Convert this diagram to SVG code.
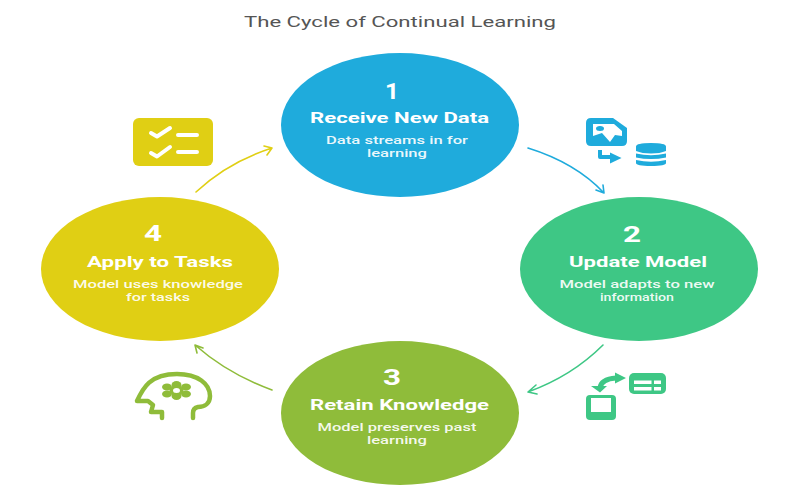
<svg xmlns="http://www.w3.org/2000/svg" width="800" height="500" viewBox="0 0 800 500">
<style>
text{font-family:Roboto,"Liberation Sans",sans-serif;text-anchor:middle}
.n{font-size:22px;font-weight:700;fill:#fff}
.h{font-size:14px;font-weight:700;fill:#fff}
.d{font-size:11px;font-weight:500;fill:#fff;fill-opacity:.92}
.c{fill:none;stroke-width:1.6;stroke-linecap:round;stroke-linejoin:round}
.w{fill:none;stroke:#fff;stroke-width:4;stroke-linecap:round;stroke-linejoin:round}
</style>
<rect width="800" height="500" fill="#fff"/>
<text id="title" x="400" y="27" font-size="14.500" fill="#555" textLength="312" lengthAdjust="spacingAndGlyphs">The Cycle of Continual Learning</text>
<g id="connectors">
<path class="c" stroke="#1fabdc" d="M528 148Q576 163 604 193M596 190L604 193L603 185"/>
<path class="c" stroke="#3ec785" d="M603 345Q572 376 528 392M536 385L528 392L537 394"/>
<path class="c" stroke="#8fbc3a" d="M272 390Q228 374 195 345M203 348L195 345L197 353"/>
<path class="c" stroke="#e0cf14" d="M196 192Q228 162 272 148M264 146L272 148L267 155"/>
</g>
<g id="node1"><ellipse cx="400" cy="125" rx="119" ry="72" fill="#1fabdc"/>
<text class="n" x="392" y="98.500" textLength="14" lengthAdjust="spacingAndGlyphs">1</text>
<text class="h" x="399.500" y="123" textLength="179" lengthAdjust="spacingAndGlyphs">Receive New Data</text>
<text class="d" x="397" y="144" textLength="142" lengthAdjust="spacingAndGlyphs">Data streams in for</text>
<text class="d" x="397" y="157" textLength="60" lengthAdjust="spacingAndGlyphs">learning</text></g>
<g id="node2"><ellipse cx="639" cy="269" rx="119" ry="72" fill="#3ec785"/>
<text class="n" x="632" y="241.500" textLength="18" lengthAdjust="spacingAndGlyphs">2</text>
<text class="h" x="638" y="266.500" textLength="138" lengthAdjust="spacingAndGlyphs">Update Model</text>
<text class="d" x="637" y="288" textLength="155" lengthAdjust="spacingAndGlyphs">Model adapts to new</text>
<text class="d" x="637" y="301" textLength="74" lengthAdjust="spacingAndGlyphs">information</text></g>
<g id="node3"><ellipse cx="400" cy="413" rx="119" ry="72" fill="#8fbc3a"/>
<text class="n" x="392" y="385" textLength="18" lengthAdjust="spacingAndGlyphs">3</text>
<text class="h" x="399.500" y="410" textLength="179" lengthAdjust="spacingAndGlyphs">Retain Knowledge</text>
<text class="d" x="397" y="431" textLength="159" lengthAdjust="spacingAndGlyphs">Model preserves past</text>
<text class="d" x="397" y="444" textLength="60" lengthAdjust="spacingAndGlyphs">learning</text></g>
<g id="node4"><ellipse cx="160" cy="269" rx="119" ry="72" fill="#e0cf14"/>
<text class="n" x="153" y="241" textLength="18" lengthAdjust="spacingAndGlyphs">4</text>
<text class="h" x="160" y="266.500" textLength="146" lengthAdjust="spacingAndGlyphs">Apply to Tasks</text>
<text class="d" x="158" y="288" textLength="170" lengthAdjust="spacingAndGlyphs">Model uses knowledge</text>
<text class="d" x="158" y="301" textLength="64" lengthAdjust="spacingAndGlyphs">for tasks</text></g>
<g id="icon1">
<path fill="#1fabdc" d="M591 118H613L627 128V141Q627 146 622 146H591Q586 146 586 141V123Q586 118 591 118Z"/>
<path fill="#fff" d="M593 124H614L622 131V136L615 135L610 142L602 133L593 136Z"/>
<ellipse cx="600" cy="128.500" rx="4" ry="2.500" fill="#1fabdc"/>
<path fill="none" stroke="#1fabdc" stroke-width="4" stroke-linejoin="round" d="M600 150V157H611"/>
<path fill="#1fabdc" d="M610 152.500L621.500 158L610 163.500Z"/>
<path fill="#1fabdc" d="M636 146.500Q636 143 651 143Q666 143 666 146.500V151Q660 153.500 651 153.500Q642 153.500 636 151ZM636 153.500Q651 157 666 153.500V157.500Q651 160.500 636 157.500ZM636 160Q651 163.500 666 160V163Q666 166 651 166Q636 166 636 163Z"/>
</g>
<g id="icon2">
<rect x="629" y="373" width="37" height="21" rx="5" fill="#3ec785"/>
<path fill="#fff" d="M634 380.500H651.500V384H634ZM654 380.500H661V384H654ZM634 387H651.500V390.500H634ZM654 387H661V390.500H654Z"/>
<rect x="586" y="395" width="30" height="25" rx="4" fill="#3ec785"/>
<rect x="591" y="398" width="20" height="14" fill="#fff"/>
<path fill="none" stroke="#3ec785" stroke-width="5" d="M600 388Q601 379 616 378"/>
<path fill="#3ec785" d="M615 372.500L626 378L615 383.500ZM591 386H607L600 392.500Z"/>
</g>
<g id="icon3">
<path fill="none" stroke="#8fbc3a" stroke-width="4.500" stroke-linecap="round" stroke-linejoin="round" d="M162 418V412H151L153 405L148 401H137C143 388 150 374 177 374C198 374 210 384 210 396C210 403 205 407 198 407Q193 408 193 413V418"/>
<g fill="#8fbc3a"><ellipse cx="176.500" cy="385" rx="5" ry="4"/><ellipse cx="176.500" cy="396" rx="5" ry="4"/><ellipse cx="167" cy="387" rx="5" ry="3.500"/><ellipse cx="186" cy="387" rx="5" ry="3.500"/><ellipse cx="167" cy="394" rx="5" ry="3.500"/><ellipse cx="186" cy="394" rx="5" ry="3.500"/><ellipse cx="176.500" cy="390.500" rx="7" ry="5"/></g>
<ellipse cx="176.500" cy="390.500" rx="3.500" ry="2.500" fill="#fff"/>
</g>
<g id="icon4">
<rect x="133" y="118" width="80" height="48" rx="6" fill="#e0cf14"/>
<path class="w" d="M151 133L157 136.500L170 128M151 153L157 156.500L170 147M178 135H197M178 152H197"/>
</g>
</svg>
